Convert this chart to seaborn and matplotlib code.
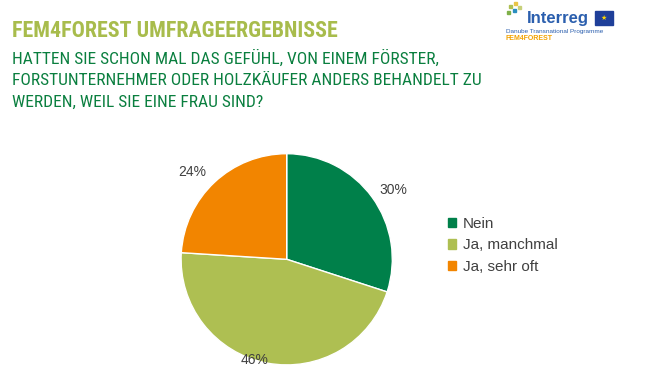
import matplotlib
matplotlib.use("Agg")
import matplotlib.pyplot as plt
import seaborn as sns
import numpy as np
from matplotlib.patches import Rectangle
from matplotlib import font_manager

categories = ["Nein", "Ja, manchmal", "Ja, sehr oft"]
values = [30, 46, 24]
pct_labels = ["30%", "46%", "24%"]
title = "FEM4FOREST UMFRAGEERGEBNISSE"
question_lines = ["HATTEN SIE SCHON MAL DAS GEFÜHL, VON EINEM FÖRSTER,",
                  "FORSTUNTERNEHMER ODER HOLZKÄUFER ANDERS BEHANDELT ZU",
                  "WERDEN, WEIL SIE EINE FRAU SIND?"]

sns.set_style("white")
plt.rcParams['font.family'] = ['Liberation Sans', 'DejaVu Sans']
names = {f.name for f in font_manager.fontManager.ttflist}
narrow = None
for cand in ['Liberation Sans Narrow', 'Roboto Condensed', 'Archivo Narrow', 'PT Sans Narrow']:
    if cand in names:
        narrow = [cand, 'Liberation Sans']
        break
if narrow is None:
    narrow = ['Liberation Sans']
colors = sns.color_palette(["#00804A", "#AEBF52", "#F28500"])

W, H = 666, 370
fig = plt.figure(figsize=(W / 100, H / 100), dpi=100)

cx, cy, r = 286.7, 259.3, 105.6
ax = fig.add_axes([(cx - r) / W, (H - cy - r) / H, 2 * r / W, 2 * r / H])
wedges, _ = ax.pie(values, colors=colors, startangle=90, counterclock=False,
                   radius=1, wedgeprops=dict(edgecolor="white", linewidth=1))
ax.set_xlim(-1, 1)
ax.set_ylim(-1, 1)
ax.set_aspect("auto")
ax.axis("off")

label_r = [1.2, 1.0, 1.22]
label_shift = [-3, -7, 4]
for w, lab, lr, sh in zip(wedges, pct_labels, label_r, label_shift):
    ang = np.deg2rad((w.theta1 + w.theta2) / 2 + sh)
    ax.text(lr * np.cos(ang), lr * np.sin(ang), lab, ha="center", va="center",
            fontsize=10, color="#404040", clip_on=False)

handles = [Rectangle((0, 0), 1, 1, color=c) for c in colors]
fig.legend(handles, categories, loc="center left",
           bbox_to_anchor=(448 / W, 1 - 245.5 / H), frameon=False,
           fontsize=11, labelcolor="#404040", handlelength=0.55, handleheight=0.55,
           handletextpad=0.4, labelspacing=0.5, borderaxespad=0, borderpad=0)

fig.text(12 / W, 1 - 37 / H, title, fontsize=15.8, fontweight="bold",
         color="#A8BC4C", va="baseline", ha="left", family=narrow)
for i, line in enumerate(question_lines):
    fig.text(12 / W, 1 - (63.5 + 21.5 * i) / H, line, fontsize=12.5,
             color="#0A7F3F", va="baseline", ha="left", family=narrow)

# logo
fig.text(527 / W, 1 - 19 / H, "Interreg", fontsize=12, fontweight="bold",
         color="#2B5FAE", va="center", ha="left")
fig.patches.append(Rectangle((595 / W, 1 - 25 / H), 18 / W, 14 / H,
                             transform=fig.transFigure, color="#1F3F99"))
fig.text(604 / W, 1 - 18 / H, "★", fontsize=5, color="#FFD700",
         ha="center", va="center", family=["DejaVu Sans"])
fig.text(506 / W, 1 - 31 / H, "Danube Transnational Programme", fontsize=4.6,
         color="#2B5FAE", va="center", ha="left")
fig.text(506 / W, 1 - 39 / H, "FEM4FOREST", fontsize=5, fontweight="bold",
         color="#F2A200", va="center", ha="left")
for (x, y, c) in [(509, 8, "#AEBF52"), (514, 5, "#E8C547"), (507, 14, "#7FB04A"),
                  (513, 12, "#2B8FBF"), (518, 9, "#C7D07A")]:
    fig.patches.append(Rectangle((x / W, 1 - y / H), 3 / W, 3 / H,
                                 transform=fig.transFigure, color=c))

fig.savefig("out.png", dpi=100, facecolor="white")
